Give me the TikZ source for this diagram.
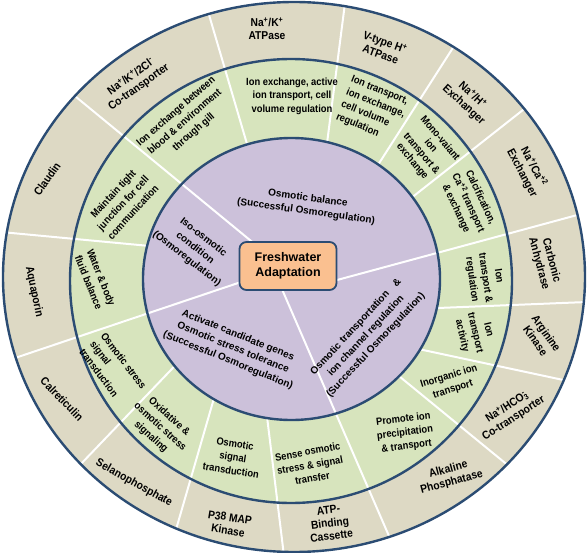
\documentclass[tikz,border=0pt]{standalone}
\usepackage{fontspec}
\setmainfont{Liberation Sans}
\newfontfamily\narrowsans[FakeStretch=0.9]{Liberation Sans}
\usetikzlibrary{positioning}

\definecolor{ringblue}{HTML}{2B4C73}
\definecolor{tanfill}{HTML}{DDD9C4}
\definecolor{greenfill}{HTML}{D7E4BD}
\definecolor{purplefill}{HTML}{CCC1DA}
\definecolor{boxfill}{HTML}{FAC090}

\tikzset{
  ringline/.style={draw=ringblue, line width=2.4pt},
  divider/.style={draw=white, line width=2pt},
  corebox/.style={draw=ringblue, fill=boxfill, line width=1.8pt, rounded corners=7pt,
    minimum width=97pt, minimum height=48pt, inner sep=0pt, align=center,
    font=\bfseries\fontsize{12.5}{15}\selectfont},
  tantxt/.style={font=\narrowsans\bfseries\fontsize{11.4}{13}\selectfont, align=center, inner sep=0pt},
  greentxt/.style={font=\narrowsans\bfseries\fontsize{10.4}{13.5}\selectfont, align=center, inner sep=0pt},
  coretxt/.style={font=\bfseries\fontsize{10}{13.5}\selectfont, align=center, inner sep=0pt}
}

\begin{document}
\begin{tikzpicture}[x=1pt, y=-1pt]
\useasboundingbox (0,0) rectangle (588,553);

% rings
\fill [tanfill] (294,277) ellipse [x radius=291, y radius=275];
\fill [greenfill] (291,281) ellipse [x radius=221, y radius=222];

% dividers of the two outer rings
\coordinate (g1a) at (252,161);  \coordinate (g1b) at (207,8);
\coordinate (g2a) at (171,248);  \coordinate (g2b) at (1,232);
\coordinate (g3a) at (191,349);  \coordinate (g3b) at (79,466);
\coordinate (g4a) at (219,381);  \coordinate (g4b) at (175,533);
\coordinate (g5a) at (264,392);  \coordinate (g5b) at (284,556);
\coordinate (g6a) at (383,363);  \coordinate (g6b) at (510,467);
\coordinate (g7a) at (395,344);  \coordinate (g7b) at (568,381);
\coordinate (g8a) at (413,309);  \coordinate (g8b) at (587,302);
\coordinate (g9a) at (396,210);  \coordinate (g9b) at (528,106);
\coordinate (g10a) at (369,179); \coordinate (g10b) at (456,43);
\coordinate (g11a) at (325,159); \coordinate (g11b) at (345,3);
\draw [divider] (g1a) to (g1b);
\draw [divider] (g2a) to (g2b);
\draw [divider] (g3a) to (g3b);
\draw [divider] (g4a) to (g4b);
\draw [divider] (g5a) to (g5b);
\draw [divider] (g6a) to (g6b);
\draw [divider] (g7a) to (g7b);
\draw [divider] (g8a) to (g8b);
\draw [divider] (g9a) to (g9b);
\draw [divider] (g10a) to (g10b);
\draw [divider] (g11a) to (g11b);

\fill [purplefill] (291.5,279) ellipse [x radius=148.5, y radius=141];

% dividers from the centre box
\coordinate (p1a) at (262,250); \coordinate (p1b) at (70,92);
\coordinate (p2a) at (250,279); \coordinate (p2b) at (12,359);
\coordinate (p3a) at (278,280); \coordinate (p3b) at (392,543);
\coordinate (p4a) at (326,283); \coordinate (p4b) at (581,214);
\draw [divider] (p1a) to (p1b);
\draw [divider] (p2a) to (p2b);
\draw [divider] (p3a) to (p3b);
\draw [divider] (p4a) to (p4b);

\draw [ringline] (294,277) ellipse [x radius=291, y radius=275];
\draw [ringline] (291,281) ellipse [x radius=221, y radius=222];
\draw [ringline] (291.5,279) ellipse [x radius=148.5, y radius=141];

\node [corebox] (core) at (288,266) {Freshwater\\Adaptation};

% outer ring
\node [tantxt] (naka) at (267,29) {Na\textsuperscript{+}/K\textsuperscript{+}\\ATPase};
\node [tantxt, rotate=-20] (vtype) at (383,48) {V-type H\textsuperscript{+}\\ATPase};
\node [tantxt, rotate=-42] (nah) at (468,100) {Na\textsuperscript{+}/H\textsuperscript{+}\\Exchanger};
\node [tantxt, rotate=-62] (naca) at (528,170) {Na\textsuperscript{+}/Ca\textsuperscript{+2}\\Exchanger};
\node [tantxt, rotate=-75] (carbonic) at (545,262) {Carbonic\\Anhydrase};
\node [tantxt, rotate=-55] (arginine) at (541,337) {Arginine\\Kinase};
\node [tantxt, rotate=33] (nahco) at (510,413) {Na\textsuperscript{+}/HCO\rlap{\textsubscript{3}}\textsuperscript{-}\\Co-transporter};
\node [tantxt, rotate=15] (alkaline) at (450,476) {Alkaline\\Phosphatase};
\node [tantxt, rotate=7] (abc) at (330,523) {ATP-\\Binding\\Cassette};
\node [tantxt, rotate=-9] (ptmap) at (229,524) {P38 MAP\\Kinase};
\node [tantxt, rotate=-29] (selano) at (134,483) {Selanophosphate};
\node [tantxt, rotate=-46] (calret) at (62,399) {Calreticulin};
\node [tantxt, rotate=-78] (aquap) at (34,292) {Aquaporin};
\node [tantxt, rotate=55] (claudin) at (47,179) {Claudin};
\node [tantxt, rotate=36] (nakcl) at (135,82) {Na\textsuperscript{+}/K\textsuperscript{+}/2Cl\textsuperscript{-}\\Co-transporter};

% middle ring
\node [greentxt, rotate=41] (gill) at (185,122) {Ion exchange between\\blood \& environment\\through gill};
\node [greentxt] (activeion) at (292,96) {Ion exchange, active\\ion transport, cell\\volume regulation};
\node [greentxt, rotate=-22, align=left] (ionexch) at (373,110) {Ion transport,\\ion exchange,\\cell volume\\regulation};
\node [greentxt, rotate=-50, font=\narrowsans\bfseries\fontsize{10.4}{12}\selectfont] (monoval) at (426,150) {Mono-vaiant\\ion\\transport \&\\exchange};
\node [greentxt, rotate=-65] (calcif) at (468,203) {Calcification,\\Ca\textsuperscript{+2} transport\\\& exchange};
\node [greentxt, rotate=-82] (ionreg) at (485,278) {Ion\\transport \&\\regulation};
\node [greentxt, rotate=-77] (ionact) at (475,333) {Ion\\transport\\activity};
\node [greentxt, rotate=17] (inorg) at (451,383) {Inorganic ion\\transport};
\node [greentxt, rotate=7] (precip) at (405,433) {Promote ion\\precipitation\\\& transport};
\node [greentxt, rotate=10] (sense) at (310,465) {Sense osmotic\\stress \& signal\\transfer};
\node [greentxt, rotate=-9] (signal) at (233,457) {Osmotic\\signal\\transduction};
\node [greentxt, rotate=-42] (oxid) at (160,427) {Oxidative \&\\osmotic stress\\signaling};
\node [greentxt, rotate=-53, align=left] (stresssig) at (113,369) {Osmotic stress\\signal\\transduction};
\node [greentxt, rotate=-68] (water) at (95,280) {Water \& body\\fluid balance};
\node [greentxt, rotate=47] (junction) at (123,203) {Maintain tight\\junction for cell\\communication};

% inner disc
\node [coretxt, rotate=-8] (balance) at (307,205) {Osmotic balance\\(Successful Osmoregulation)};
\node [coretxt, rotate=-38] (isoosm) at (195,248) {Iso-osmotic\\condition\\(Osmoregulation)};
\node [coretxt, rotate=-22] (genes) at (233,348) {Activate candidate genes\\Osmotic stress tolerance\\(Successful Osmoregulation)};
\node [coretxt, rotate=47] (channel) at (366,336) {Osmotic transportation\quad\&\\ion channel regulation\\(Successful Osmoregulation)};
\end{tikzpicture}
\end{document}
